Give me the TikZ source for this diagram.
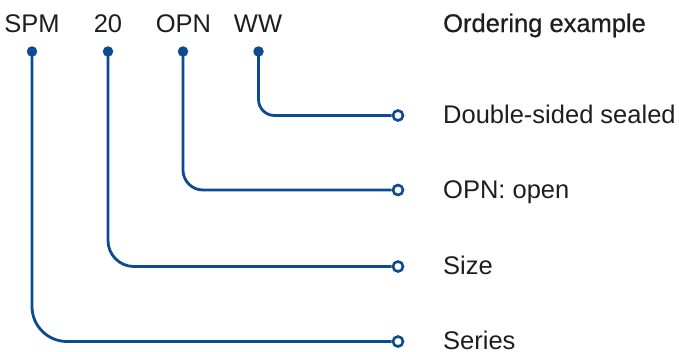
\documentclass[tikz,border=0pt]{standalone}
\usepackage{fontspec}
\setmainfont{Liberation Sans}
\definecolor{lineblue}{RGB}{12,74,145}
\definecolor{txt}{RGB}{30,30,30}
\begin{document}
\begin{tikzpicture}[x=1pt,y=-1pt,
  lbl/.style={inner sep=0pt,text=txt,font=\fontsize{25.5}{30}\selectfont},
  dotnode/.style={circle,fill=lineblue,inner sep=0pt,minimum size=10.5pt},
  ringnode/.style={circle,draw=lineblue,line width=2.6pt,fill=white,inner sep=0pt,minimum size=10pt},
  conn/.style={draw=lineblue,line width=2.8pt}]
\useasboundingbox (0,0) rectangle (679,351);
% top codes
\node[lbl,anchor=base] (tSPM) at (32,32) {SPM};
\node[lbl,anchor=base] (t20) at (108,32) {20};
\node[lbl,anchor=base] (tOPN) at (183.5,32) {OPN};
\node[lbl,anchor=base] (tWW) at (258,32) {WW};
\node[lbl,anchor=base west] (title) at (443,32) {\addfontfeature{FakeBold=0.6}Ordering example};
% dots
\node[dotnode] (d1) at (32,51.5) {};
\node[dotnode] (d2) at (108,51.5) {};
\node[dotnode] (d3) at (183,51.5) {};
\node[dotnode] (d4) at (258.5,51.5) {};
% rings
\node[ringnode] (r4) at (398,115.5) {};
\node[ringnode] (r3) at (398,190) {};
\node[ringnode] (r2) at (398,266.5) {};
\node[ringnode] (r1) at (398,341.5) {};
% connectors
\draw[conn,rounded corners=16pt] (d4.center) |- (r4.west);
\draw[conn,rounded corners=20pt] (d3.center) |- (r3.west);
\draw[conn,rounded corners=26pt] (d2.center) |- (r2.west);
\draw[conn,rounded corners=35pt] (d1.center) |- (r1.west);
% labels
\node[lbl,anchor=base west] (l4) at (443,123.5) {Double-sided sealed};
\node[lbl,anchor=base west] (l3) at (443,198) {OPN: open};
\node[lbl,anchor=base west] (l2) at (443,274.5) {Size};
\node[lbl,anchor=base west] (l1) at (443,349) {Series};
\end{tikzpicture}
\end{document}
